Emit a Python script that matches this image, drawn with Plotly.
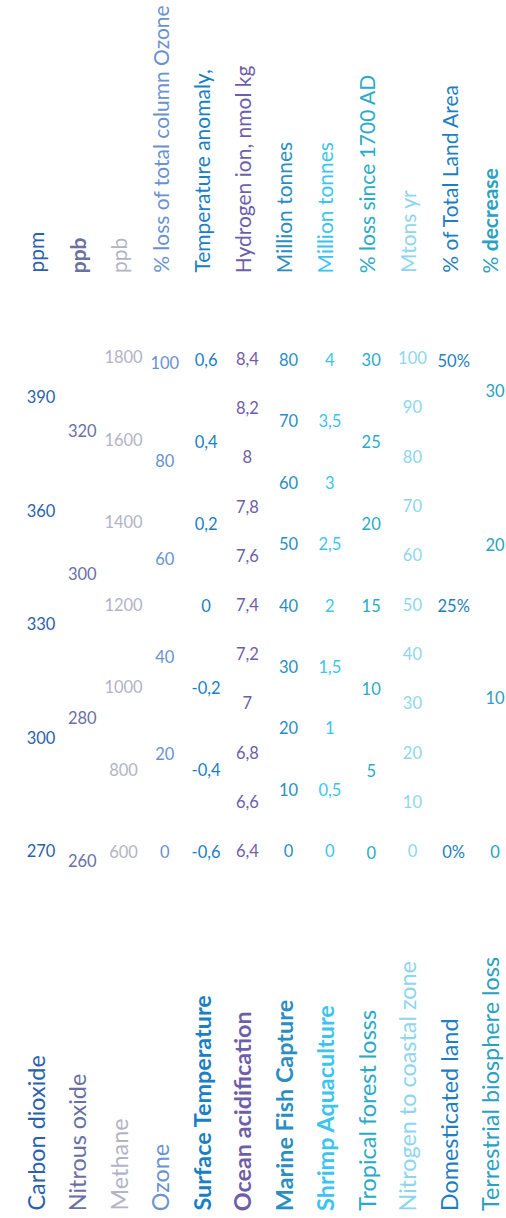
import plotly.graph_objects as go

# ---- data ----
names = ["Carbon dioxide", "Nitrous oxide", "Methane", "Ozone", "Surface Temperature",
         "Ocean acidification", "Marine Fish Capture", "Shrimp Aquaculture",
         "Tropical forest losss", "Nitrogen to coastal zone", "Domesticated land",
         "Terrestrial biosphere loss"]
units = ["ppm", "<b>ppb</b>", "ppb", "% loss of total column Ozone", "Temperature anomaly,",
         "Hydrogen ion, nmol kg", "Million tonnes", "Million tonnes", "% loss since 1700 AD",
         "Mtons yr", "% of Total Land Area", "% <b>decrease</b>"]

co2_ticks = [270, 300, 330, 360, 390]
n2o_ticks = [260, 280, 300, 320]
ch4_ticks = [600, 800, 1000, 1200, 1400, 1600, 1800]
ozone_ticks = [0, 20, 40, 60, 80, 100]
temp_ticks = [-0.6, -0.4, -0.2, 0, 0.2, 0.4, 0.6]
ocean_ticks = [6.4, 6.6, 6.8, 7.0, 7.2, 7.4, 7.6, 7.8, 8.0, 8.2, 8.4]
fish_ticks = [0, 10, 20, 30, 40, 50, 60, 70, 80]
shrimp_ticks = [0, 0.5, 1, 1.5, 2, 2.5, 3, 3.5, 4]
forest_ticks = [0, 5, 10, 15, 20, 25, 30]
nitrogen_ticks = [0, 10, 20, 30, 40, 50, 60, 70, 80, 90, 100]
land_ticks = [0, 25, 50]
biosphere_ticks = [0, 10, 20, 30]

all_ticks = [co2_ticks, n2o_ticks, ch4_ticks, ozone_ticks, temp_ticks, ocean_ticks,
             fish_ticks, shrimp_ticks, forest_ticks, nitrogen_ticks, land_ticks, biosphere_ticks]

tick_suffix = ["", "", "", "", "", "", "", "", "", "", "%", ""]


def fmt(v, suffix=""):
    return ("%g" % v).replace(".", ",") + suffix


# ---- layout / style ----
axis_ranges = [
    [173.46, 495.6], [210.47, 380.42], [-282.96, 2671.56], [-74.44, 174.64],
    [-1.4873, 1.4817], [4.9172, 9.8654], [-59.47, 138.98], [-2.9735, 6.949],
    [-22.08, 52.0], [-74.04, 173.02], [-37.04, 86.91], [-23.67, 55.54],
]
colors = ["#2c5fae", "#6a70a4", "#b4b3c6", "#6a92cf", "#1a80c4", "#6e5eaa",
          "#2a8ec2", "#3cc4f0", "#2aaac8", "#8ed6ef", "#1f7ec0", "#2aa0c2"]
name_weight = ["normal", "normal", "normal", "normal", "bold", "bold",
               "bold", "bold", "normal", "normal", "normal", "normal"]

FONT = "Lato"
fig = go.Figure()
layout_axes = {}
for i, ticks in enumerate(all_ticks):
    yname = "y" if i == 0 else f"y{i+1}"
    fig.add_trace(go.Scatter(
        x=[i] * len(ticks), y=ticks,
        text=[fmt(v, tick_suffix[i]) for v in ticks],
        mode="text", textposition="middle center", cliponaxis=False,
        textfont=dict(family=FONT, size=16.5, color=colors[i]),
        yaxis=yname, xaxis="x", showlegend=False, hoverinfo="skip",
    ))
    key = "yaxis" if i == 0 else f"yaxis{i+1}"
    ax = dict(range=axis_ranges[i], visible=False, showgrid=False, zeroline=False,
              fixedrange=True)
    if i > 0:
        ax["overlaying"] = "y"
    layout_axes[key] = ax

annotations = []
for i in range(len(names)):
    annotations.append(dict(
        text=names[i], x=i, xref="x", y=0.0041, yref="paper", xshift=-5,
        xanchor="center", yanchor="bottom", textangle=-90, showarrow=False,
        font=dict(family=FONT, size=23.4, color=colors[i], weight=name_weight[i]),
    ))
    annotations.append(dict(
        text=units[i], x=i, xref="x", y=0.7742, yref="paper", xshift=-5,
        xanchor="center", yanchor="bottom", textangle=-90, showarrow=False,
        font=dict(family=FONT, size=21, color=colors[i]),
    ))

fig.update_layout(
    width=506, height=1218,
    margin=dict(l=0, r=0, t=0, b=0),
    paper_bgcolor="white", plot_bgcolor="white",
    xaxis=dict(range=[-0.9934, 11.267], visible=False, fixedrange=True),
    annotations=annotations,
    hovermode=False,
    **layout_axes,
)
fig.write_html("out.html", config={"displayModeBar": False, "staticPlot": True},
               post_script="document.body.style.margin='0';document.body.style.overflow='hidden';")
